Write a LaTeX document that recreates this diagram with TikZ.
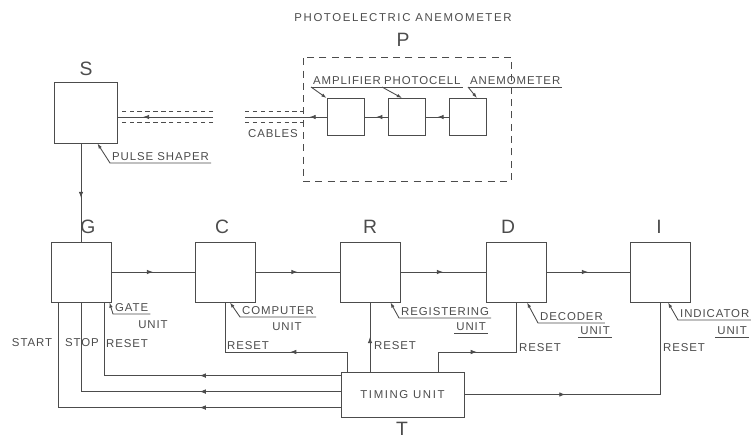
\documentclass[tikz,border=0pt]{standalone}
\usepackage{fontspec}
\setmainfont{Liberation Sans}
\newfontfamily\draftfont[LetterSpace=8]{Liberation Sans}
\newfontfamily\titlefont[LetterSpace=14]{Liberation Sans}
\usepackage{tikz}
\usetikzlibrary{
  arrows.meta, decorations.markings, calc
}
\tikzset{
  unit/.style={
    draw, minimum width=1.2cm, minimum height=1.2cm
  },
  cell/.style={
    draw, minimum width=0.74cm, minimum height=0.74cm
  },
  flow/.style={
    postaction={decorate},
    decoration={markings,
      mark=at position #1 with {\arrow{Latex[length=3.5pt,width=2.6pt]}}}
  },
  flow/.default=0.5,
  lbl/.style={
    font=\draftfont\fontsize{6.5}{7}\selectfont, inner sep=1pt
  },
  tag/.style={
    font=\fontsize{11}{12}\selectfont, inner sep=0pt
  },
  callout/.style={{Latex[length=3pt,width=2pt]}-}
}

\begin{document}
\begin{tikzpicture}[x=0.02cm, y=-0.02cm, color=black!70, line width=0.5pt,
  cable/.style={dashed, dash pattern=on 2.5pt off 2pt, line width=0.4pt},
  pframe/.style={draw, dashed, dash pattern=on 4pt off 3pt}
]
\useasboundingbox (0,0) rectangle (751,439);

%% Photoelectric anemometer
\node[lbl, font=\titlefont\fontsize{6.5}{7}\selectfont] (title) at (403,18) {PHOTOELECTRIC ANEMOMETER};
\node[tag] (ptag) at (403,40) {P};
\node[pframe, minimum width=4.16cm, minimum height=2.48cm] (pbox) at (407,119) {};

\node[cell] (amp) at (345.5,117) {};
\node[cell] (photo) at (407,117) {};
\node[cell] (anem) at (468,117) {};

\node[lbl, anchor=south west] (amplbl) at (311,87) {AMPLIFIER};
\node[lbl, anchor=south west] (photolbl) at (382,87) {PHOTOCELL};
\node[lbl, anchor=south west] (anemlbl) at (468,87) {ANEMOMETER};
\draw (amplbl.south west) -- (amplbl.south east);
\draw (photolbl.south west) -- (photolbl.south east);
\draw (anemlbl.south west) -- (anemlbl.south east);
\draw[callout] (amp.north west) -- (amplbl.south west);
\draw[callout] ([xshift=-0.1cm]photo.north) -- (photolbl.south west);
\draw[callout] ([xshift=0.18cm]anem.north) -- (anemlbl.south west);

\draw[flow] (anem) -- (photo);
\draw[flow] (photo) -- (amp);

%% Pulse shaper and cables
\node[unit, minimum width=1.26cm, minimum height=1.22cm] (S) at (85.5,112.5) {};
\node[tag] (stag) at (86,69) {S};
\node[lbl, anchor=south west] (pslbl) at (110,163) {PULSE SHAPER};
\draw[callout] ([xshift=-0.4cm]S.south east) -- (pslbl.south west) -- (pslbl.south east);

\coordinate (cabR) at (245,117);
\coordinate (cabL) at (213,117);
\draw[flow=0.34cm] (amp.west) -- (cabR);
\draw[flow=1.4cm] (cabL) -- (cabL -| S.east);
\foreach \dy in {-0.11cm, 0.11cm} {
  \draw[cable] ([yshift=\dy]cabR) -- ([yshift=\dy]cabR -| pbox.west);
  \draw[cable] ([yshift=\dy]cabL) -- ([yshift=\dy]cabL -| S.east);
}
\node[lbl] (cablbl) at (273,134) {CABLES};

%% Unit chain
\node[unit] (G) at (81,272) {};
\node[unit] (C) at (225,272) {};
\node[unit] (R) at (370,272) {};
\node[unit] (D) at (516,272) {};
\node[unit] (I) at (660,272) {};
\node[tag] (gtag) at (88,227) {G};
\node[tag] (ctag) at (222,227) {C};
\node[tag] (rtag) at (370,227) {R};
\node[tag] (dtag) at (508,227) {D};
\node[tag] (itag) at (659,227) {I};

\draw[flow=1.09cm] (S.south -| G.north) -- (G.north);
\foreach \a/\b in {G/C, C/R, R/D, D/I}
  \draw[flow] (\a) -- (\b);

%% Unit names
\node[lbl, anchor=south west] (gatelbl) at (113,314) {GATE};
\node[lbl] (gateunit) at (153,325) {UNIT};
\draw[callout] ([xshift=-0.04cm]G.south east) -- (gatelbl.south west) -- (gatelbl.south east);

\node[lbl, anchor=south west] (complbl) at (240,317) {COMPUTER};
\node[lbl] (compunit) at (287,327) {UNIT};
\draw[callout] ([xshift=0.1cm]C.south) -- (complbl.south west) -- (complbl.south east);

\node[lbl, anchor=south west] (reglbl) at (399,318) {REGISTERING};
\node[lbl, anchor=south east] (regunit) at (488,333) {UNIT};
\draw[callout] ([xshift=-0.2cm]R.south east) -- (reglbl.south west) -- (reglbl.south east);
\draw (regunit.south west) -- (regunit.south east);

\node[lbl, anchor=south west] (declbl) at (538,323) {DECODER};
\node[lbl, anchor=south east] (decunit) at (612,337) {UNIT};
\draw[callout] ([xshift=0.22cm]D.south) -- (declbl.south west) -- (declbl.south east);
\draw (decunit.south west) -- (decunit.south east);

\node[lbl, anchor=south west] (indlbl) at (678,320) {INDICATOR};
\node[lbl, anchor=south east] (indunit) at (749,337) {UNIT};
\draw[callout] ([xshift=0.16cm]I.south) -- (indlbl.south west) -- (indlbl.south east);
\draw (indunit.south west) -- (indunit.south east);

%% Timing unit
\node[unit, minimum width=2.46cm, minimum height=0.9cm, font=\titlefont\fontsize{6.5}{7}\selectfont] (T) at (402.5,394.5) {TIMING UNIT};
\node[tag] (ttag) at (402,429) {T};

\coordinate (crst) at (225,352);
\coordinate (drst) at (516,352);
\draw[flow] (T.north -| R.south) -- (R.south);
\draw[flow=1.54cm] ([xshift=0.14cm]T.north west) |- (crst) -- (C.south);
\draw[flow=1.16cm] ([xshift=-0.52cm]T.north east) |- (drst) -- (D.south);
\draw[flow=2.02cm] (T.east) -| (I.south);

\draw[flow=2.82cm] ([yshift=-0.08cm]T.north west) -| ([xshift=0.46cm]G.south);
\draw[flow=2.82cm] ([yshift=-0.4cm]T.north west) -| (G.south);
\draw[flow=2.82cm] ([yshift=-0.72cm]T.north west) -| ([xshift=-0.46cm]G.south);

%% Reset labels
\node[lbl] (startlbl) at (32,343) {START};
\node[lbl] (stoplbl) at (82,343) {STOP};
\node[lbl] (grstlbl) at (127,344) {RESET};
\node[lbl, anchor=south west] (crstlbl) at (crst) {RESET};
\node[lbl, anchor=west] (rrstlbl) at (372,346) {RESET};
\node[lbl, anchor=west] (drstlbl) at (517,348) {RESET};
\node[lbl, anchor=west] (irstlbl) at (661,348) {RESET};

\end{tikzpicture}
\end{document}
